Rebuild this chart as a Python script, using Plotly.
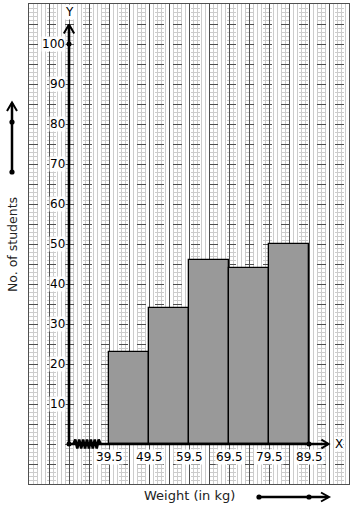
import plotly.graph_objects as go

# ---- data ----
class_edges = [39.5, 49.5, 59.5, 69.5, 79.5, 89.5]
students = [23, 34, 46, 44, 50]
y_tick_values = [10, 20, 30, 40, 50, 60, 70, 80, 90, 100]
x_tick_labels = ["39.5", "49.5", "59.5", "69.5", "79.5", "89.5"]
x_title = "Weight (in kg)"
y_title = "No. of students"

W, H = 354, 510
ML, MR, MT, MB = 29, 5, 4, 26
XR = [19.5, 99.5]
YR = [-10, 110]
ORIGIN_X = 29.5

FONT = "DejaVu Sans"


def px(x):
    return (x - ML) / (W - ML - MR)


def py(y):
    return (H - MB - y) / (H - MT - MB)


centers = [(a + b) / 2 for a, b in zip(class_edges[:-1], class_edges[1:])]
widths = [b - a for a, b in zip(class_edges[:-1], class_edges[1:])]

fig = go.Figure()

fig.add_trace(go.Bar(
    x=centers, y=students, width=widths,
    marker=dict(color="#999999", line=dict(color="black", width=1.3)),
    hoverinfo="skip", showlegend=False,
))

AX = dict(color="black", width=2.6)
# Y axis line + arrow
fig.add_trace(go.Scatter(x=[ORIGIN_X, ORIGIN_X], y=[0, 104.8], mode="lines",
                         line=AX, showlegend=False, hoverinfo="skip"))
fig.add_trace(go.Scatter(x=[ORIGIN_X - 1.3, ORIGIN_X, ORIGIN_X + 1.3], y=[102.6, 104.9, 102.6],
                         mode="lines", line=dict(color="black", width=2), showlegend=False, hoverinfo="skip"))
# X axis line + arrow
fig.add_trace(go.Scatter(x=[ORIGIN_X, 94.3], y=[0, 0], mode="lines",
                         line=AX, showlegend=False, hoverinfo="skip"))
fig.add_trace(go.Scatter(x=[92.6, 94.4, 92.6], y=[1.1, 0, -1.1],
                         mode="lines", line=dict(color="black", width=2), showlegend=False, hoverinfo="skip"))
# kink (zigzag) on x axis
zx, zy = [], []
n = 14
for i in range(n + 1):
    zx.append(30.6 + i * (37.4 - 30.6) / n)
    zy.append(0 if i in (0, n) else (1.1 if i % 2 else -1.1))
fig.add_trace(go.Scatter(x=zx, y=zy, mode="lines", line=dict(color="black", width=2.6),
                         showlegend=False, hoverinfo="skip"))
# dots
fig.add_trace(go.Scatter(x=[ORIGIN_X, ORIGIN_X, class_edges[-1]], y=[0, 100, 0], mode="markers",
                         marker=dict(color="black", size=5), showlegend=False, hoverinfo="skip",
                         cliponaxis=False))

ann = []
for v in y_tick_values:
    ann.append(dict(x=ORIGIN_X, y=v, xref="x", yref="y", text=str(v), showarrow=False,
                    xanchor="right", yanchor="middle", xshift=-3, bgcolor="white",
                    borderpad=0, font=dict(family=FONT, size=12, color="black")))
for lab, e in zip(x_tick_labels, class_edges):
    ann.append(dict(x=e, y=-3.3, xref="x", yref="y", text=lab, showarrow=False,
                    xanchor="center", yanchor="middle", bgcolor="white",
                    borderpad=0, font=dict(family=FONT, size=12, color="black")))
ann.append(dict(x=ORIGIN_X, y=108, xref="x", yref="y", text="Y", showarrow=False,
                xanchor="center", yanchor="middle", bgcolor="white", borderpad=0,
                font=dict(family=FONT, size=12, color="black")))
ann.append(dict(x=97.0, y=0, xref="x", yref="y", text="X", showarrow=False,
                xanchor="center", yanchor="middle", bgcolor="white", borderpad=0,
                font=dict(family=FONT, size=12, color="black")))
ann.append(dict(x=px(12), y=py(245), xref="paper", yref="paper", text=y_title, textangle=-90,
                showarrow=False, xanchor="center", yanchor="middle",
                font=dict(family=FONT, size=12.5, color="#222")))
ann.append(dict(x=px(189), y=py(496), xref="paper", yref="paper", text=x_title,
                showarrow=False, xanchor="center", yanchor="middle",
                font=dict(family=FONT, size=13, color="#222")))

shapes = []
L = dict(color="black", width=2.5)
# left decorative arrow
shapes.append(dict(type="line", xref="paper", yref="paper", x0=px(12), y0=py(172), x1=px(12), y1=py(103), line=L))
shapes.append(dict(type="path", xref="paper", yref="paper",
                   path=f"M {px(7)} {py(111)} L {px(12)} {py(102.5)} L {px(17)} {py(111)}",
                   line=dict(color="black", width=2)))
# bottom decorative arrow
shapes.append(dict(type="line", xref="paper", yref="paper", x0=px(259), y0=py(497), x1=px(328), y1=py(497), line=L))
shapes.append(dict(type="path", xref="paper", yref="paper",
                   path=f"M {px(321)} {py(492.5)} L {px(329)} {py(497)} L {px(321)} {py(501.5)}",
                   line=dict(color="black", width=2)))
for (cx, cy) in [(12, 172), (12, 122), (259, 497), (309, 497)]:
    r = 2.6
    shapes.append(dict(type="circle", xref="paper", yref="paper",
                       x0=px(cx - r), x1=px(cx + r), y0=py(cy - r), y1=py(cy + r),
                       fillcolor="black", line=dict(color="black", width=0)))

fig.update_layout(
    width=W, height=H,
    margin=dict(l=ML, r=MR, t=MT, b=MB, pad=0),
    paper_bgcolor="white", plot_bgcolor="white",
    annotations=ann, shapes=shapes, bargap=0,
    xaxis=dict(range=XR, tick0=19.5, dtick=5, showgrid=True, gridcolor="#505050", gridwidth=1,
               showticklabels=False, ticks="", zeroline=False,
               showline=True, mirror=True, linecolor="#505050", linewidth=1,
               minor=dict(dtick=1, tick0=19.5, showgrid=True, gridcolor="#cccccc", gridwidth=1),
               fixedrange=True),
    yaxis=dict(range=YR, tick0=0, dtick=5, showgrid=True, gridcolor="#505050", gridwidth=1,
               griddash="dash", showticklabels=False, ticks="", zeroline=False,
               showline=True, mirror=True, linecolor="#505050", linewidth=1,
               minor=dict(dtick=1, tick0=0, showgrid=True, gridcolor="#cccccc", gridwidth=1),
               fixedrange=True),
)

fig.write_html("out.html", config={"displayModeBar": False})
